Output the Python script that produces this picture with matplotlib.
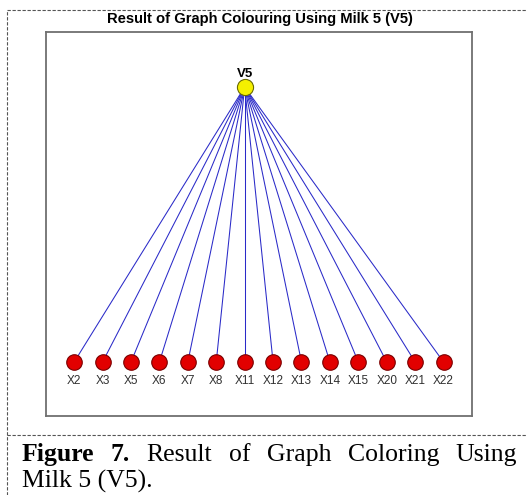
import matplotlib
matplotlib.use("Agg")
from matplotlib import pyplot as plt
from matplotlib.lines import Line2D

# graph data: one root node joined to every leaf
root = "V5"
leaves = ["X2", "X3", "X5", "X6", "X7", "X8", "X11", "X12",
          "X13", "X14", "X15", "X20", "X21", "X22"]
root_pos = 6          # root sits above X11
title = "Result of Graph Colouring Using Milk 5 (V5)"
caption_bold = ["Figure", "7."]
caption_words = ["Result", "of", "Graph", "Coloring", "Using"]
caption_line2 = "Milk 5 (V5)."

W, H = 526, 495
fig = plt.figure(figsize=(W / 100, H / 100), dpi=100)

# axes box in pixels: left 46, right 472, top 32, bottom 416
ax = fig.add_axes([46 / W, 1 - 416 / H, (472 - 46) / W, (416 - 32) / H])
ax.set_xlim(-0.99, 14.0)
ax.set_ylim(-0.196, 1.2)
ax.set_xticks([])
ax.set_yticks([])
for s in ax.spines.values():
    s.set_color("#707070")
    s.set_linewidth(1.3)

xs = list(range(len(leaves)))
for x in xs:
    ax.plot([root_pos, x], [1, 0], color="#2a2ac8", lw=0.75, zorder=1)

ax.scatter(xs, [0] * len(xs), s=125, c="#e20000", edgecolors="#7a0000",
           linewidths=0.8, zorder=3)
ax.scatter([root_pos], [1], s=135, c="#f5f000", edgecolors="#6b6b00",
           linewidths=0.8, zorder=3)

for x, name in zip(xs, leaves):
    ax.text(x, -0.07, name, ha="center", va="center", fontsize=8.5,
            family="Liberation Sans", color="#303030")
ax.text(root_pos, 1.048, root, ha="center", va="center", fontsize=9.5,
        fontweight="bold", family="Liberation Sans")

fig.text(259.5 / W, 1 - 19 / H, title, ha="center", va="center",
         fontsize=10.6, fontweight="bold", family="Liberation Sans")

# dashed frame of the figure panel
dash = dict(color="#555555", lw=0.8, ls=(0, (3, 1.5)))
fig.add_artist(Line2D([7 / W, 7 / W], [0, 1 - 10 / H], **dash))
fig.add_artist(Line2D([7 / W, 1], [1 - 10 / H, 1 - 10 / H], **dash))
fig.add_artist(Line2D([7 / W, 1], [1 - 435 / H, 1 - 435 / H], **dash))

# justified caption line
r = fig.canvas.get_renderer()
left, right = 22, 517
base1 = 1 - 461 / H
texts = []
for w in caption_bold:
    texts.append(fig.text(0, base1, w, fontsize=18.5, fontweight="bold",
                          family="Liberation Serif", va="baseline"))
for w in caption_words:
    texts.append(fig.text(0, base1, w, fontsize=18.5,
                          family="Liberation Serif", va="baseline"))
widths = [t.get_window_extent(r).width for t in texts]
gap = (right - left - sum(widths)) / (len(texts) - 1)
x = left
for t, wd in zip(texts, widths):
    t.set_x(x / W)
    x += wd + gap

fig.text(left / W, 1 - 488 / H, caption_line2, fontsize=18.5,
         family="Liberation Serif", va="baseline")

fig.savefig("out.png", dpi=100)
